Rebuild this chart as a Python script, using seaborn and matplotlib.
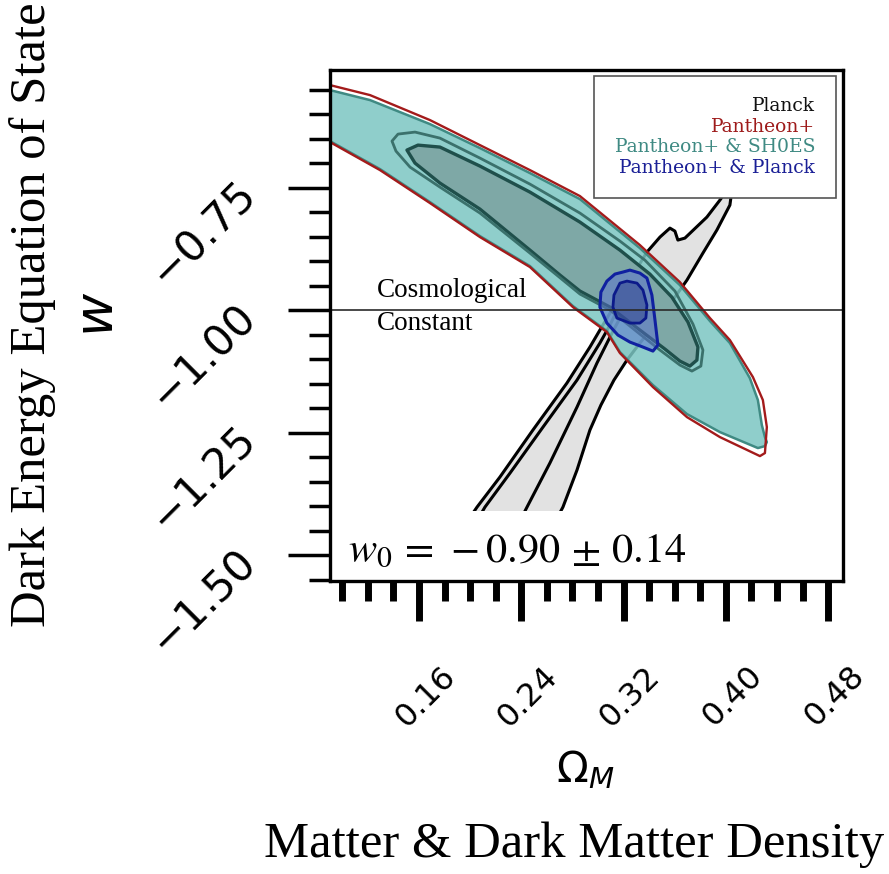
import matplotlib
matplotlib.use("Agg")
import matplotlib.pyplot as plt
import seaborn as sns
from matplotlib.patches import Patch, Rectangle
from matplotlib.ticker import FixedLocator, MultipleLocator
from matplotlib.transforms import ScaledTranslation

# ---------------------------------------------------------------------------
# Confidence-region outlines in the (Omega_M, w) plane
# ---------------------------------------------------------------------------
# Planck, 2 sigma
planck_2s_om = [0.1514, 0.1842, 0.2054, 0.2233, 0.2491, 0.2757, 0.2937, 0.3015,
                0.3211, 0.3383, 0.3485, 0.3563, 0.3602, 0.3625, 0.3680, 0.3852,
                0.3954, 0.4009, 0.4040, 0.4056, 0.4048, 0.4032, 0.3930, 0.3821,
                0.3696, 0.3641, 0.3485, 0.3328, 0.3227, 0.3125, 0.3023, 0.2937,
                0.2836, 0.2726, 0.2546, 0.2351]
planck_2s_w = [-1.5918, -1.4837, -1.4021, -1.3408, -1.2449, -1.1490, -1.0755, -1.0408,
               -0.9551, -0.8816, -0.8510, -0.8327, -0.8388, -0.8571, -0.8531, -0.8102,
               -0.7755, -0.7551, -0.7300, -0.7250, -0.7551, -0.7857, -0.8367, -0.8837,
               -0.9388, -0.9592, -1.0163, -1.0673, -1.1020, -1.1429, -1.1939, -1.2449,
               -1.3265, -1.4021, -1.4898, -1.5918]
# Planck, 1 sigma
planck_1s_om = [0.1647, 0.1921, 0.2116, 0.2312, 0.2570, 0.2836, 0.3015, 0.3094,
                0.3187, 0.3172, 0.3094, 0.2992, 0.2836, 0.2624, 0.2445, 0.2273, 0.2077]
planck_1s_w = [-1.5918, -1.4898, -1.4021, -1.3327, -1.2388, -1.1429, -1.0673, -1.0306,
               -0.9796, -1.0163, -1.0551, -1.1082, -1.1980, -1.3122, -1.4021, -1.4898, -1.5918]

# Pantheon+, 2 sigma
pantheon_om = [0.0800, 0.0904, 0.1217, 0.1686, 0.2077, 0.2468, 0.2859, 0.3328,
               0.3641, 0.3876, 0.4032, 0.4212, 0.4290, 0.4321, 0.4306, 0.4267,
               0.3954, 0.3696, 0.3430, 0.3172, 0.3070, 0.2804, 0.2468, 0.2077,
               0.1686, 0.1295, 0.0904, 0.0800]
pantheon_w = [-0.5360, -0.5408, -0.5612, -0.6122, -0.6633, -0.7143, -0.7673, -0.8673,
              -0.9429, -1.0163, -1.0612, -1.1367, -1.1837, -1.2388, -1.2918, -1.2980,
              -1.2592, -1.2184, -1.1571, -1.0878, -1.0449, -0.9939, -0.9122, -0.8510,
              -0.7816, -0.7143, -0.6571, -0.6450]

# Pantheon+ & SH0ES, 2 sigma
shoes_2s_om = [0.0800, 0.0904, 0.1217, 0.1686, 0.2077, 0.2468, 0.2859, 0.3328,
               0.3641, 0.3876, 0.4032, 0.4188, 0.4251, 0.4282, 0.4306, 0.4321,
               0.4306, 0.4251, 0.3954, 0.3696, 0.3430, 0.3172, 0.3070, 0.2804,
               0.2468, 0.2077, 0.1686, 0.1295, 0.0904, 0.0800]
shoes_2s_w = [-0.5460, -0.5510, -0.5714, -0.6204, -0.6694, -0.7204, -0.7735, -0.8735,
              -0.9490, -1.0224, -1.0673, -1.1388, -1.1837, -1.2347, -1.2592, -1.2694,
              -1.2776, -1.2816, -1.2490, -1.2122, -1.1531, -1.0857, -1.0429, -0.9918,
              -0.9102, -0.8490, -0.7796, -0.7122, -0.6551, -0.6420]
# Pantheon+ & SH0ES, 1 sigma
shoes_1s_om = [0.1506, 0.1592, 0.1764, 0.2077, 0.2468, 0.2859, 0.3172, 0.3406,
               0.3578, 0.3704, 0.3782, 0.3774, 0.3719, 0.3641, 0.3524, 0.3328,
               0.3094, 0.2859, 0.2703, 0.2468, 0.2077, 0.1764, 0.1569]
shoes_1s_w = [-0.6734, -0.6633, -0.6673, -0.7061, -0.7592, -0.8204, -0.8776, -0.9265,
              -0.9735, -1.0245, -1.0755, -1.1020, -1.1143, -1.1041, -1.0796, -1.0408,
              -0.9939, -0.9612, -0.9286, -0.8776, -0.7939, -0.7408, -0.7000]
# Pantheon+, 1 sigma
pantheon_1s_om = [0.1389, 0.1436, 0.1569, 0.1764, 0.2077, 0.2468, 0.2859, 0.3172,
                  0.3367, 0.3602, 0.3743, 0.3821, 0.3805, 0.3735, 0.3641, 0.3485,
                  0.3328, 0.3094, 0.2859, 0.2468, 0.2077, 0.1764, 0.1530, 0.1420]
pantheon_1s_w = [-0.6551, -0.6408, -0.6367, -0.6490, -0.6898, -0.7429, -0.8020, -0.8592,
                 -0.8980, -0.9612, -1.0286, -1.0816, -1.1143, -1.1245, -1.1122, -1.0816,
                 -1.0490, -1.0000, -0.9673, -0.8837, -0.8020, -0.7490, -0.7082, -0.6755]

# Pantheon+ & Planck
combo_2s_om = [0.3195, 0.3250, 0.3328, 0.3383, 0.3422, 0.3446, 0.3469, 0.3430,
               0.3352, 0.3250, 0.3156, 0.3070, 0.3015, 0.3023, 0.3070, 0.3133]
combo_2s_w = [-0.9224, -0.9184, -0.9245, -0.9347, -0.9694, -1.0204, -1.0714, -1.0837,
              -1.0755, -1.0653, -1.0510, -1.0265, -0.9939, -0.9633, -0.9408, -0.9265]
combo_1s_om = [0.3172, 0.3227, 0.3305, 0.3352, 0.3383, 0.3375, 0.3328, 0.3250,
               0.3148, 0.3117, 0.3125]
combo_1s_w = [-0.9449, -0.9408, -0.9449, -0.9592, -0.9898, -1.0163, -1.0265, -1.0265,
              -1.0163, -0.9939, -0.9694]

w_lambda = -1.0
x_major = [0.16, 0.24, 0.32, 0.40, 0.48]
y_major = [-1.50, -1.25, -1.00, -0.75]
legend_labels = ["Planck", "Pantheon+", "Pantheon+ & SH0ES", "Pantheon+ & Planck"]
legend_colors = ["#111111", "#9e1b1b", "#3f8a83", "#1a1f96"]

# ---------------------------------------------------------------------------
sns.set_theme(style="ticks")
plt.rcParams["font.family"] = ["DejaVu Sans"]
plt.rcParams["axes.facecolor"] = "white"
plt.rcParams["figure.facecolor"] = "white"
plt.rcParams["text.color"] = "black"
plt.rcParams["axes.labelcolor"] = "black"
plt.rcParams["xtick.color"] = "black"
plt.rcParams["ytick.color"] = "black"

fig = plt.figure(figsize=(8.89, 8.74), dpi=100)
ax = fig.add_axes([0.3712, 0.3352, 0.5771, 0.5847])


def region(om, w, face, edge, lw, z, alpha=1.0):
    if face is not None:
        ax.fill(om, w, facecolor=face, edgecolor="none", alpha=alpha, zorder=z)
    ax.fill(om, w, facecolor="none", edgecolor=edge, linewidth=lw, zorder=z + 0.05,
            joinstyle="round")


# Planck
region(planck_2s_om, planck_2s_w, "#e2e2e2", "black", 2.2, 1)
region(planck_1s_om, planck_1s_w, "#e2e2e2", "black", 2.2, 1.2)
# Pantheon+ & SH0ES
region(shoes_2s_om, shoes_2s_w, "#7bc6c2", "#3f8a83", 1.8, 2, alpha=0.85)
region(pantheon_1s_om, pantheon_1s_w, None, "#3b716c", 2.0, 3.2)
region(shoes_1s_om, shoes_1s_w, "#7ea8a6", "#1f4f4b", 2.4, 3)
# Pantheon+
region(pantheon_om, pantheon_w, None, "#a31b1b", 1.7, 4)
# Pantheon+ & Planck
region(combo_2s_om, combo_2s_w, "#5a70d0", "#1020a0", 2.2, 5, alpha=0.5)
region(combo_1s_om, combo_1s_w, "#2c3f8f", "#0c1a8a", 2.0, 6, alpha=0.5)

ax.axhline(w_lambda, color="#2a2a2a", lw=1.2, zorder=7)
ax.text(0.0916, 0.556, "Cosmological", transform=ax.transAxes, fontsize=19.5,
        family="Liberation Serif", va="baseline", ha="left", zorder=8)
ax.text(0.0916, 0.491, "Constant", transform=ax.transAxes, fontsize=19.5,
        family="Liberation Serif", va="baseline", ha="left", zorder=8)

# best-fit summary box
ax.add_patch(Rectangle((0, 0), 0.715, 0.137, transform=ax.transAxes,
                       facecolor="white", edgecolor="none", zorder=9))
ax.text(0.035, 0.037, r"$w_0\,=\,-0.90\,\pm\,0.14$", transform=ax.transAxes,
        fontsize=30.5, math_fontfamily="stix", va="baseline", ha="left", zorder=10)

ax.set_xlim(0.0904, 0.4917)
ax.set_ylim(-1.553, -0.510)
ax.xaxis.set_major_locator(FixedLocator(x_major))
ax.xaxis.set_minor_locator(MultipleLocator(0.02))
ax.yaxis.set_major_locator(FixedLocator(y_major))
ax.yaxis.set_minor_locator(MultipleLocator(0.05))
ax.set_xticklabels([f"{v:.2f}" for v in x_major])
ax.set_yticklabels([f"{v:.2f}".replace("-", "\u2212") for v in y_major])

ax.tick_params(axis="x", which="major", length=29, width=5, direction="out",
               labelsize=23, pad=28)
ax.tick_params(axis="x", which="minor", length=14.5, width=5, direction="out")
ax.tick_params(axis="y", which="major", length=30, width=2.5, direction="out",
               labelsize=30.5, pad=28)
ax.tick_params(axis="y", which="minor", length=15, width=2.5, direction="out")
shift_right = ScaledTranslation(5 / 72, 0, fig.dpi_scale_trans)
for lbl in ax.get_xticklabels():
    lbl.set_rotation(45)
    lbl.set_ha("center")
    lbl.set_transform(lbl.get_transform() + shift_right)
for lbl in ax.get_yticklabels():
    lbl.set_rotation(45)
    lbl.set_rotation_mode("anchor")
    lbl.set_ha("right")
    lbl.set_va("center")

for sp in ax.spines.values():
    sp.set_linewidth(2.4)
    sp.set_color("black")
    sp.set_zorder(15)

ax.set_xlabel(r"$\Omega_M$", fontsize=30, va="center")
ax.xaxis.set_label_coords(0.497, -0.370)
ax.set_ylabel(r"$w$", fontsize=38, va="center")
ax.yaxis.set_label_coords(-0.452, 0.5225)

handles = [Patch(visible=False) for _ in legend_labels]
leg = ax.legend(handles, legend_labels, loc="upper right",
                bbox_to_anchor=(0.986, 0.988), borderaxespad=0,
                handlelength=0, handletextpad=0, markerfirst=False,
                labelcolor=legend_colors,
                prop={"family": "DejaVu Serif", "size": 13.5},
                frameon=True, fancybox=False, edgecolor="#555555",
                framealpha=1, borderpad=1.1, labelspacing=0.15)
leg.get_frame().set_linewidth(1.2)
leg.set_zorder(20)

fig.text(0.037, 0.640, "Dark Energy Equation of State", rotation=90,
         family="Liberation Serif", fontsize=36.5, ha="center", va="center")
fig.text(0.6457, 0.033, "Matter & Dark Matter Density",
         family="Liberation Serif", fontsize=36.5, ha="center", va="center")

fig.savefig("out.png", dpi=100, facecolor="white")
